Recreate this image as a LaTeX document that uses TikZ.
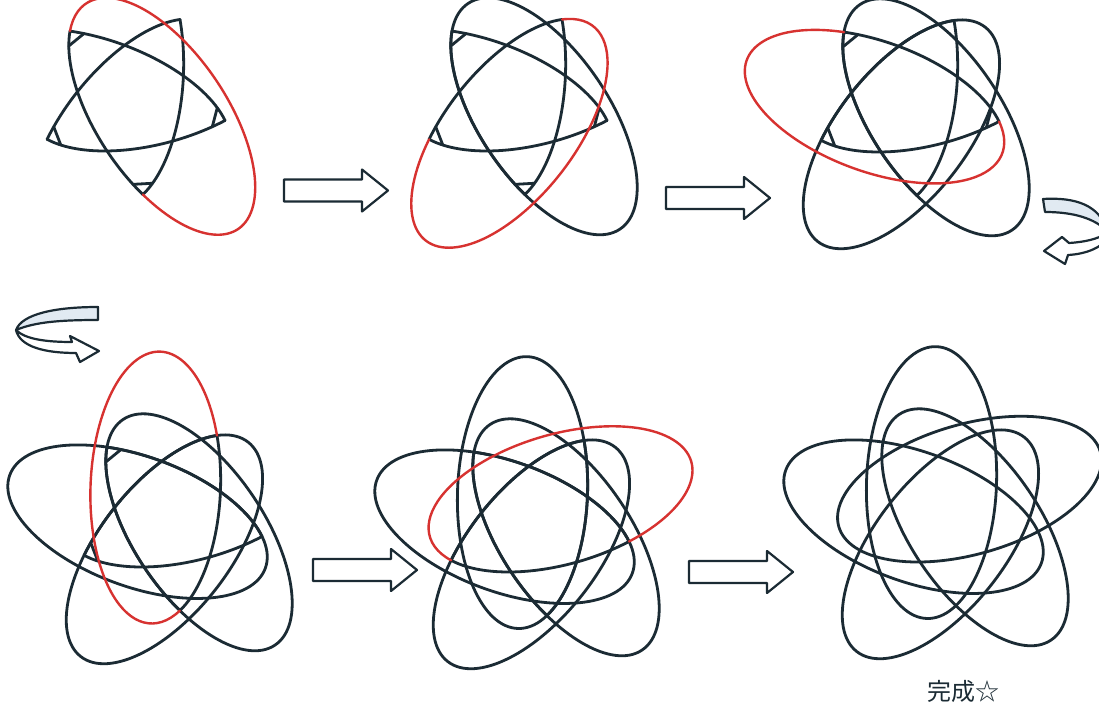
\documentclass[tikz,border=0pt]{standalone}
\usepackage{fontspec}
\newfontfamily\jpfont{Noto Sans CJK JP}
\definecolor{ink}{RGB}{27,43,52}
\definecolor{redink}{RGB}{215,50,48}
\definecolor{pale}{RGB}{225,234,242}
\tikzset{
  inkline/.style={draw=ink, line width=2.8pt, line cap=round, line join=round},
  redline/.style={draw=redink, line width=2.4pt, line cap=round},
  arrowoutline/.style={draw=ink, line width=2.2pt, line join=round},
}
% one arc of ellipse k (axis angle 88-72k), parametric angles #2..#3
\newcommand\EllArc[4]{%
  \begin{scope}[shift={({88-72*(#1)+28.2}:32.8pt)}, rotate={88-72*(#1)}]
    \draw[#4] (#2:136pt and 65pt) arc[start angle=#2, end angle=#3, x radius=136pt, y radius=65pt];
  \end{scope}}
% tip helper points of ellipse k
\newcommand\EllPts[2]{%
  \begin{scope}[shift={({88-72*(#2)+28.2}:32.8pt)}, rotate={88-72*(#2)}]
    \coordinate (#1a#2) at (215.7:136pt and 65pt);
    \coordinate (#1b#2) at (287.2:136pt and 65pt);
  \end{scope}}
\newcommand\Tip[3]{\draw[inkline] (#1a#2) -- (#1b#3);}
\newcommand\InnerAll[1]{\foreach \k in {0,...,4} {\EllArc{\k}{206.1}{293.5}{inkline}\EllPts{#1}{\k}}}
\newcommand\BlockArrow[2]{%
  \draw[arrowoutline, fill=white] (#1,{#2-11}) -- ({#1+78},{#2-11}) -- ({#1+78},{#2-21}) -- ({#1+104},#2) -- ({#1+78},{#2+21}) -- ({#1+78},{#2+11}) -- (#1,{#2+11}) -- cycle;}
\begin{document}
\begin{tikzpicture}[x=1pt,y=1pt]
\useasboundingbox (0,0) rectangle (1099,705);
\clip (0,0) rectangle (1099,705);
\fill[white] (0,0) rectangle (1099,705);

% Panel 1
\begin{scope}[shift={(133,604)}]
  \InnerAll{Pa}
  \Tip{Pa}{2}{4}\Tip{Pa}{1}{3}\Tip{Pa}{4}{1}\Tip{Pa}{0}{2}
  \EllArc{2}{293.5}{566.1}{redline}
\end{scope}
% Panel 2
\begin{scope}[shift={(515,604)}]
  \InnerAll{Pb}
  \EllArc{2}{0}{360}{inkline}
  \Tip{Pb}{2}{4}\Tip{Pb}{1}{3}\Tip{Pb}{4}{1}\Tip{Pb}{0}{2}
  \EllArc{3}{293.5}{566.1}{redline}
\end{scope}
% Panel 3
\begin{scope}[shift={(907,603)}]
  \InnerAll{Pc}
  \EllArc{2}{0}{360}{inkline}
  \EllArc{3}{0}{360}{inkline}
  \Tip{Pc}{2}{4}\Tip{Pc}{1}{3}\Tip{Pc}{4}{1}
  \EllArc{4}{293.5}{566.1}{redline}
\end{scope}
% Panel 4
\begin{scope}[shift={(170,188)}]
  \InnerAll{Pd}
  \EllArc{2}{0}{360}{inkline}
  \EllArc{3}{0}{360}{inkline}
  \EllArc{4}{0}{360}{inkline}
  \Tip{Pd}{2}{4}\Tip{Pd}{1}{3}
  \EllArc{0}{293.5}{566.1}{redline}
\end{scope}
% Panel 5
\begin{scope}[shift={(537,183)}]
  \InnerAll{Pe}
  \EllArc{2}{0}{360}{inkline}
  \EllArc{3}{0}{360}{inkline}
  \EllArc{4}{0}{360}{inkline}
  \EllArc{0}{0}{360}{inkline}
  \EllArc{1}{293.5}{566.1}{redline}
\end{scope}
% Panel 6
\begin{scope}[shift={(946,193)}]
  \foreach \k in {0,...,4} {\EllArc{\k}{0}{360}{inkline}}
\end{scope}

% straight block arrows
\BlockArrow{284}{514.5}
\BlockArrow{666}{507}
\BlockArrow{313}{135}
\BlockArrow{689}{133}

% curved arrows (image coordinates)
\begin{scope}[shift={(0,705)}, yscale=-1]
  % right U-turn
  \draw[arrowoutline, fill=pale] (1043,199) .. controls (1075,197) and (1100,205) .. (1107,231)
     .. controls (1095,219) and (1075,212) .. (1045,212) -- cycle;
  \draw[arrowoutline, fill=white] (1107,233) .. controls (1098,239) and (1085,242) .. (1069,243)
     -- (1062,237) -- (1044,251) -- (1065,264) -- (1068,255)
     .. controls (1087,254) and (1102,247) .. (1108,238) -- cycle;
  % left U-turn
  \draw[arrowoutline, fill=pale] (98,307) .. controls (55,307) and (22,314) .. (16,330)
     .. controls (35,322) and (60,320) .. (98,320) -- cycle;
  \draw[arrowoutline, fill=white] (16,330) .. controls (25,339) and (45,342) .. (72,342)
     -- (70,336) -- (99,351) -- (80,362) -- (76,353)
     .. controls (45,353) and (20,347) .. (16,330) -- cycle;
\end{scope}

\node[text=ink, inner sep=0pt] (done) at (963,14) {\jpfont\fontsize{24}{24}\selectfont 完成☆};
\end{tikzpicture}
\end{document}
